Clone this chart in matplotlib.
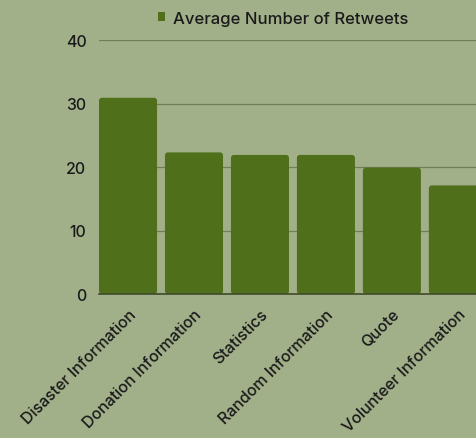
import matplotlib.pyplot as plt
from matplotlib.patches import FancyBboxPatch, Patch

categories = ["Disaster Information", "Donation Information", "Statistics",
              "Random Information", "Quote", "Volunteer Information"]
retweets = [30.9, 22.3, 21.9, 21.9, 19.9, 17.1]
yticks = [0, 10, 20, 30, 40]

BG = "#a2b08a"
BAR = "#4f6f1a"
INK = "#1a1a1a"

plt.rcParams["font.family"] = ["Inter", "DejaVu Sans"]
plt.rcParams["font.weight"] = 500

fig = plt.figure(figsize=(4.77, 4.39), dpi=100, facecolor=BG)
ax = fig.add_axes([99 / 477, (439 - 295) / 439, 1 - 99 / 477, (295 - 41) / 439])
ax.set_facecolor(BG)

x = list(range(len(categories)))
bars = ax.bar(x, retweets, width=0.88, color=BAR, zorder=3)

# swap the plain rectangles for slightly rounded ones
for b in bars:
    b.set_visible(False)
    ax.add_patch(FancyBboxPatch((b.get_x(), b.get_y()), b.get_width(), b.get_height(),
                                boxstyle="round,pad=0,rounding_size=0.045",
                                mutation_aspect=10.4, facecolor=BAR, edgecolor="none",
                                zorder=3))

ax.set_xlim(-0.44, 5.29)
ax.set_ylim(0, 40)
ax.set_yticks(yticks)
ax.tick_params(axis="y", length=0, pad=9, labelsize=11.5, labelcolor=INK)
ax.tick_params(axis="x", length=0, pad=9)
ax.set_xticks(x)
ax.set_xticklabels(categories, rotation=45, ha="right", va="top",
                   rotation_mode="anchor", fontsize=11.5, color=INK)

ax.grid(axis="y", color="#6e7f5a", linewidth=0.9, zorder=0)
for side in ["top", "right", "left"]:
    ax.spines[side].set_visible(False)
ax.spines["bottom"].set_color("#3e4a2a")
ax.spines["bottom"].set_linewidth(1.2)
ax.spines["bottom"].set_zorder(4)

handle = Patch(facecolor=BAR, edgecolor="none", label="Average Number of Retweets")
ax.legend(handles=[handle], loc="center left", bbox_to_anchor=(0.155, 1.085),
          frameon=False, handlelength=0.45, handleheight=0.45, handletextpad=0.45,
          fontsize=12, labelcolor=INK, borderaxespad=0, borderpad=0)

fig.savefig("out.png", dpi=100, facecolor=BG)
